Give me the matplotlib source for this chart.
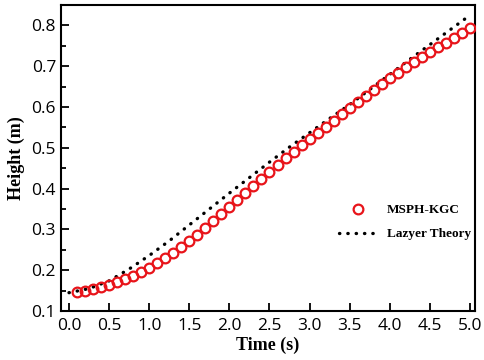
import matplotlib
matplotlib.use('Agg')
import matplotlib.pyplot as plt
from matplotlib.ticker import MultipleLocator

# MSPH-KGC samples (every 0.1 s)
sph_time = [round(0.1 * i, 1) for i in range(1, 51)]
sph_height = [0.147, 0.149, 0.153, 0.158, 0.164, 0.170, 0.178, 0.187, 0.196, 0.206,
              0.217, 0.229, 0.242, 0.256, 0.271, 0.287, 0.303, 0.320, 0.337, 0.355,
              0.372, 0.389, 0.406, 0.423, 0.440, 0.457, 0.474, 0.490, 0.506, 0.522,
              0.537, 0.552, 0.567, 0.582, 0.597, 0.612, 0.627, 0.642, 0.656, 0.670,
              0.684, 0.697, 0.710, 0.722, 0.734, 0.746, 0.758, 0.770, 0.782, 0.793]

# Lazyer theory curve
theory_time = [0.0, 0.25, 0.5, 0.75, 1.0, 1.25, 1.5, 1.75, 2.0, 2.25, 2.5,
               2.75, 3.0, 3.25, 3.5, 3.75, 4.0, 4.25, 4.5, 4.75, 5.0]
theory_height = [0.145, 0.155, 0.174, 0.203, 0.236, 0.272, 0.311, 0.350, 0.389, 0.427, 0.465,
                 0.502, 0.537, 0.572, 0.606, 0.643, 0.680, 0.717, 0.753, 0.789, 0.825]

serif = ['Liberation Serif', 'DejaVu Serif']

fig = plt.figure(figsize=(4.84, 3.6), dpi=100)
ax = fig.add_axes([0.126, 0.136, 0.855, 0.850])

ax.plot(sph_time, sph_height, linestyle='none', marker='o', markersize=7,
        markerfacecolor='none', markeredgecolor='#e8141a', markeredgewidth=1.6,
        label='MSPH-KGC', zorder=3)
ax.plot(theory_time, theory_height, linestyle=(0, (0.1, 2.4)), dash_capstyle='round',
        color='black', linewidth=2.4, label='Lazyer Theory', zorder=2)

ax.set_xlim(-0.1, 5.06)
ax.set_ylim(0.1, 0.85)
ax.xaxis.set_major_locator(MultipleLocator(0.5))
ax.yaxis.set_major_locator(MultipleLocator(0.1))
ax.yaxis.set_minor_locator(MultipleLocator(0.05))
ax.tick_params(which='both', direction='in', top=False, right=False, width=1.3)
ax.tick_params(which='major', length=6, labelsize=12.5)
ax.tick_params(axis='x', pad=5)
ax.tick_params(which='minor', length=3.5)
for lab in ax.get_xticklabels() + ax.get_yticklabels():
    lab.set_family('Open Sans')
for sp in ax.spines.values():
    sp.set_linewidth(1.5)

ax.set_xlabel('Time (s)', family=serif, fontweight='bold', fontsize=13, labelpad=2)
ax.set_ylabel('Height (m)', family=serif, fontweight='bold', fontsize=13, labelpad=5)

ax.legend(loc='center left', bbox_to_anchor=(0.672, 0.29), frameon=False,
          borderpad=0, borderaxespad=0, handlelength=2.9, handletextpad=0.7,
          labelspacing=0.9, prop={'family': serif, 'weight': 'bold', 'size': 9.5})

fig.savefig('out.png', dpi=100)
